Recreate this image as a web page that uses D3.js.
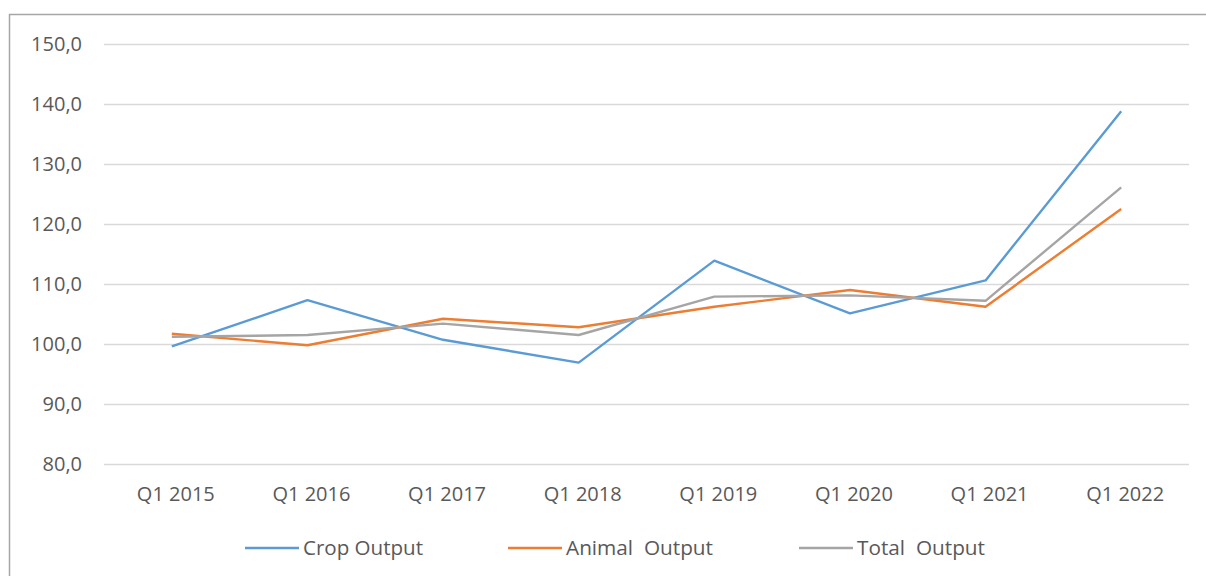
<!DOCTYPE html>
<html lang="en">
<head>
    <meta charset="UTF-8">
    <title>Output index</title>
    <style>
        body { margin: 0; background: #fff; }
        svg text { font-family: "Open Sans", sans-serif; fill: #595959; white-space: pre; }
    </style>
</head>
<body>
<svg id="chart" width="1206" height="576"></svg>
<script src="https://d3js.org/d3.v7.min.js"></script>
<script>
    // data
    const categories = ["Q1 2015", "Q1 2016", "Q1 2017", "Q1 2018", "Q1 2019", "Q1 2020", "Q1 2021", "Q1 2022"];
    const cropOutput = [99.6, 107.3, 100.7, 96.9, 113.9, 105.1, 110.6, 138.8];
    const animalOutput = [101.7, 99.8, 104.2, 102.8, 106.2, 109.0, 106.2, 122.5];
    const totalOutput = [101.2, 101.5, 103.4, 101.5, 107.9, 108.1, 107.2, 126.1];
    const yTicks = [80, 90, 100, 110, 120, 130, 140, 150];

    const series = [
        { name: "Crop Output", values: cropOutput, color: "#5B9BD5" },
        { name: "Animal  Output", values: animalOutput, color: "#ED7D31" },
        { name: "Total  Output", values: totalOutput, color: "#A5A5A5" }
    ];

    const svg = d3.select("#chart");
    const plotLeft = 104, plotRight = 1189, plotTop = 44, plotBottom = 464;

    // chart frame
    svg.append("rect")
        .attr("x", 9.5).attr("y", 14.5)
        .attr("width", 1210).attr("height", 600)
        .attr("fill", "none")
        .attr("stroke", "#A6A6A6")
        .attr("stroke-width", 1.5);

    const x = d3.scaleBand().domain(categories).range([plotLeft, plotRight]);
    const y = d3.scaleLinear().domain([80, 150]).range([plotBottom, plotTop]);

    // gridlines
    svg.append("g")
        .selectAll("line")
        .data(yTicks)
        .join("line")
        .attr("x1", plotLeft).attr("x2", plotRight)
        .attr("y1", d => Math.round(y(d)) + 0.5)
        .attr("y2", d => Math.round(y(d)) + 0.5)
        .attr("stroke", "#D9D9D9")
        .attr("stroke-width", 1.3);

    // y labels
    svg.append("g")
        .selectAll("text")
        .data(yTicks)
        .join("text")
        .attr("x", 82)
        .attr("y", d => y(d))
        .attr("dy", "0.35em")
        .attr("text-anchor", "end")
        .style("font-size", "20px")
        .text(d => d3.format(".1f")(d).replace(".", ","));

    // x labels
    svg.append("g")
        .selectAll("text")
        .data(categories)
        .join("text")
        .attr("x", d => x(d) + x.bandwidth() / 2 + 4)
        .attr("y", 494)
        .attr("dy", "0.35em")
        .attr("text-anchor", "middle")
        .style("font-size", "20px")
        .text(d => d);

    // lines
    const line = d3.line()
        .x((d, i) => x(categories[i]) + x.bandwidth() / 2)
        .y(d => y(d));

    svg.append("g")
        .selectAll("path")
        .data(series)
        .join("path")
        .attr("d", d => line(d.values))
        .attr("fill", "none")
        .attr("stroke", d => d.color)
        .attr("stroke-width", 2.4)
        .attr("stroke-linejoin", "round");

    // legend
    const legendX = [245, 508, 799];
    const legendTextW = [120, 147, 128];
    const legend = svg.append("g")
        .selectAll("g")
        .data(series)
        .join("g")
        .attr("transform", (d, i) => `translate(${legendX[i]},548)`);

    legend.append("line")
        .attr("x1", 0).attr("x2", 54)
        .attr("stroke", d => d.color)
        .attr("stroke-width", 2.4);

    // fit legend text to the widths seen in the reference
    legend.append("text")
        .attr("x", 58)
        .attr("dy", "0.35em")
        .style("font-size", "20px")
        .attr("textLength", (d, i) => legendTextW[i])
        .attr("lengthAdjust", "spacingAndGlyphs")
        .text(d => d.name);
</script>
</body>
</html>
